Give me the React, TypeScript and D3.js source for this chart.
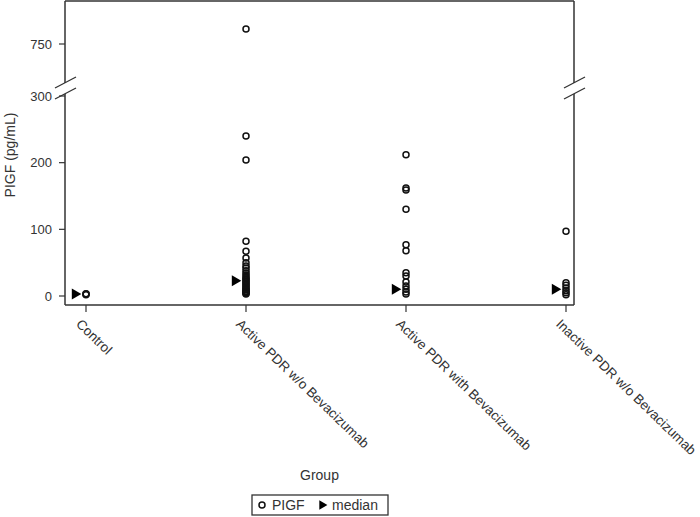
import React from "react";
import * as d3 from "d3";

const groups = [
  "Control",
  "Active PDR w/o Bevacizumab",
  "Active PDR with Bevacizumab",
  "Inactive PDR w/o Bevacizumab",
];

// PlGF readings per group (pg/mL)
const controlValues = [2, 3, 3.5];
const activeWithoutValues = [
  805, 240, 204, 82, 67, 57, 50, 45, 42, 38, 34, 31, 28, 26, 24, 22, 20, 18,
  16, 14, 12, 10, 9, 7, 6, 5, 4, 3,
];
const activeWithValues = [212, 162, 159, 130, 77, 68, 35, 30, 21, 15, 10, 6, 3];
const inactiveValues = [97, 20, 16, 12, 8, 5, 2];
const groupValues = [controlValues, activeWithoutValues, activeWithValues, inactiveValues];

const medians = [3, 23, 10, 10];

const lowerTicks = [0, 100, 200, 300];
const upperTicks = [750];

const W = 700;
const H = 517;
const left = 65;
const right = 574;
const top = 1;
const bottom = 305;
const breakTop = 83;
const breakBottom = 94;
const ink = "#333";
const font = "'Liberation Sans', Arial, sans-serif";

const App = () => {
  const x = d3.scalePoint<string>().domain(groups).range([86, 566]);
  const yLow = d3.scaleLinear().domain([0, 300]).range([296, 96]);
  const yHigh = d3.scaleLinear().domain([600, 900]).range([85, 3]);
  const y = (v: number) => (v > 300 ? yHigh(v) : yLow(v));

  const tri = d3.symbol().type(d3.symbolTriangle).size(52)();

  const breakMarks = (cx: number) => (
    <g>
      <line x1={cx - 10} x2={cx + 11} y1={88} y2={77} stroke={ink} strokeWidth={1.3} />
      <line x1={cx - 10} x2={cx + 11} y1={99} y2={88} stroke={ink} strokeWidth={1.3} />
    </g>
  );

  return (
    <svg
      width={W}
      height={H}
      style={{ position: "absolute", left: 0, top: 0, background: "#fff" }}
      fontFamily={font}
    >
      {/* frame with break on both verticals */}
      <line x1={left} x2={right} y1={top} y2={top} stroke={ink} strokeWidth={1.5} />
      <line x1={left} x2={right} y1={bottom} y2={bottom} stroke={ink} strokeWidth={1.5} />
      {[left, right].map((cx) => (
        <g key={cx}>
          <line x1={cx} x2={cx} y1={top} y2={breakTop} stroke={ink} strokeWidth={1.5} />
          <line x1={cx} x2={cx} y1={breakBottom} y2={bottom} stroke={ink} strokeWidth={1.5} />
          {breakMarks(cx)}
        </g>
      ))}

      {/* y ticks */}
      {lowerTicks.map((t) => (
        <g key={"l" + t} transform={`translate(0,${yLow(t)})`}>
          <line x1={left - 6} x2={left} stroke={ink} strokeWidth={1.2} />
          <text x={left - 13} dy="0.35em" textAnchor="end" fontSize={13} fill={ink}>
            {t}
          </text>
        </g>
      ))}
      {upperTicks.map((t) => (
        <g key={"u" + t} transform={`translate(0,${yHigh(t)})`}>
          <line x1={left - 6} x2={left} stroke={ink} strokeWidth={1.2} />
          <text x={left - 13} dy="0.35em" textAnchor="end" fontSize={13} fill={ink}>
            {t}
          </text>
        </g>
      ))}
      <text
        transform={`translate(15,155) rotate(-90)`}
        textAnchor="middle"
        fontSize={14}
        fill={ink}
      >
        PIGF (pg/mL)
      </text>

      {/* x ticks and rotated labels */}
      {groups.map((g) => (
        <g key={g}>
          <line x1={x(g)} x2={x(g)} y1={bottom} y2={bottom + 7} stroke={ink} strokeWidth={1.2} />
          <text
            transform={`translate(${x(g)! - 4},${bottom + 13}) rotate(44)`}
            dy="0.72em"
            fontSize={13.5}
            fill={ink}
          >
            {g}
          </text>
        </g>
      ))}
      <text x={(left + right) / 2} y={480} textAnchor="middle" fontSize={14} fill={ink}>
        Group
      </text>

      {/* points */}
      {groups.map((g, i) =>
        groupValues[i].map((v, j) => (
          <circle
            key={g + j}
            cx={x(g)}
            cy={y(v)}
            r={3}
            fill="none"
            stroke="#111"
            strokeWidth={1.5}
          />
        ))
      )}

      {/* medians */}
      {groups.map((g, i) => (
        <path
          key={"m" + g}
          d={tri}
          fill="#000"
          transform={`translate(${x(g)! - 11},${y(medians[i])}) rotate(90)`}
        />
      ))}

      {/* legend */}
      <rect x={252} y={495} width={136} height={20} fill="none" stroke={ink} strokeWidth={1.3} />
      <circle cx={262} cy={505} r={3} fill="none" stroke="#111" strokeWidth={1.5} />
      <text x={272} y={510} fontSize={14} fill={ink}>
        PIGF
      </text>
      <path d={tri} fill="#000" transform={`translate(322,505) rotate(90) scale(0.85)`} />
      <text x={332} y={510} fontSize={14} fill={ink}>
        median
      </text>
    </svg>
  );
};

export default App;
